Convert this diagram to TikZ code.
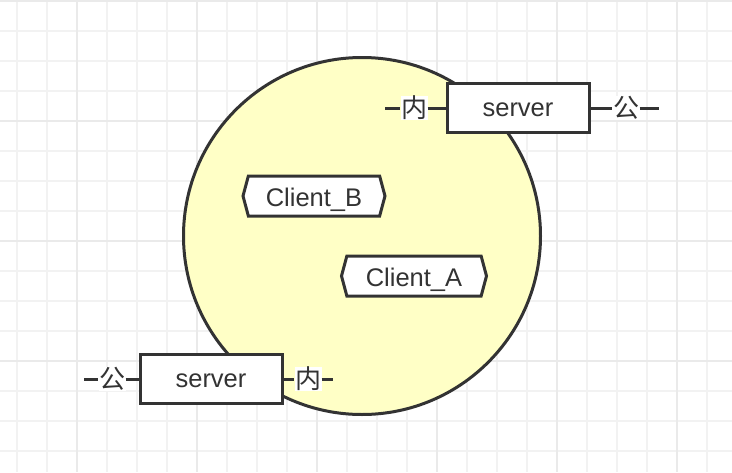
\documentclass[tikz,border=0pt]{standalone}
\usepackage{fontspec}
\setmainfont{Liberation Sans}
\newfontfamily\cjk{Noto Sans CJK SC}
\usetikzlibrary{shapes.symbols}
\definecolor{ink}{HTML}{333333}
\definecolor{cloudfill}{HTML}{FFFFC6}
\definecolor{gridminor}{HTML}{F2F2F2}
\definecolor{gridmajor}{HTML}{EAEAEA}
\begin{document}
\begin{tikzpicture}[x=1pt,y=-1pt,
  serverbox/.style={draw=ink,line width=3pt,fill=white,minimum width=142pt,minimum height=49pt,inner sep=0pt,text=ink,font=\fontsize{25.5}{30}\selectfont,text height=17.6pt,text depth=0pt},
  clientbox/.style={signal,signal to=west and east,signal pointer angle=150,draw=ink,line width=3pt,fill=white,minimum width=142pt,minimum height=40pt,inner sep=0pt,text=ink,font=\fontsize{25.5}{30}\selectfont,text height=21.4pt,text depth=0pt},
  lbl/.style={fill=white,inner sep=0.5pt,text=ink,font=\cjk\fontsize{26}{30}\selectfont},
  wire/.style={draw=ink,line width=3pt}]
\useasboundingbox (0,0) rectangle (732,472);
\fill[white] (0,0) rectangle (732,472);
% grid
\foreach \x in {17,47,...,737} \draw[gridminor,line width=1.6pt] (\x,0) -- (\x,472);
\foreach \y in {1,31,...,481} \draw[gridminor,line width=1.6pt] (0,\y) -- (732,\y);
\foreach \x in {77,197,...,737} \draw[gridmajor,line width=1.6pt] (\x,0) -- (\x,472);
\foreach \y in {1,121,...,481} \draw[gridmajor,line width=1.6pt] (0,\y) -- (732,\y);
% circle
\node[circle,draw=ink,line width=3pt,fill=cloudfill,minimum size=357pt,inner sep=0pt] (cloud) at (362,236) {};
% clients
\node[clientbox,minimum width=142pt] (clientB) at (314,196) {Client\_B};
\node[clientbox,minimum width=145pt] (clientA) at (414,276) {Client\_A};
% top server
\node[serverbox] (srvT) at (518,108) {server};
\coordinate (tl) at (385,108);
\coordinate (tr) at (659,108);
\node[lbl] (tin) at (414,108) {内};
\node[lbl] (tout) at (626,108) {公};
\draw[wire] (tl) -- (tin);
\draw[wire] (tin) -- (srvT);
\draw[wire] (srvT) -- (tout);
\draw[wire] (tout) -- (tr);
% bottom server
\node[serverbox] (srvB) at (211,379) {server};
\coordinate (bl) at (84,379);
\coordinate (br) at (333,379);
\node[lbl] (bout) at (112,379) {公};
\node[lbl] (bin) at (308,379) {内};
\draw[wire] (bl) -- (bout);
\draw[wire] (bout) -- (srvB);
\draw[wire] (srvB) -- (bin);
\draw[wire] (bin) -- (br);
\end{tikzpicture}
\end{document}
